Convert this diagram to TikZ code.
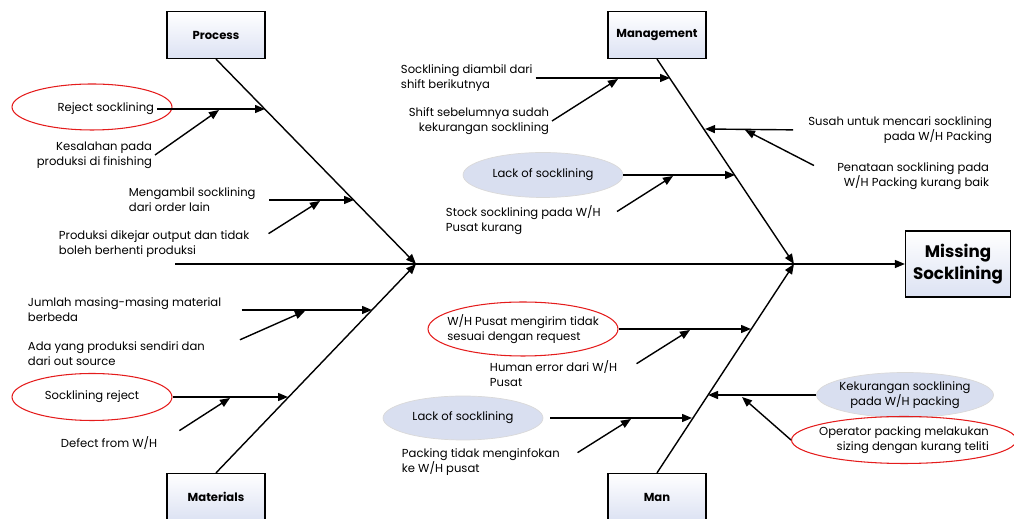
\documentclass[tikz,border=0pt]{standalone}
\usepackage{fontspec}
\setmainfont{Poppins}
\usetikzlibrary{arrows.meta,shapes.geometric}
\definecolor{boxblue}{RGB}{220,226,243}
\definecolor{ellblue}{RGB}{217,223,240}
\definecolor{ringred}{RGB}{228,28,28}
\tikzset{%
  arrow/.style={-{Triangle[length=2mm,width=1.6mm]}, line width=0.8pt},
  cause/.style={inner sep=1.5pt, align=left}
}

\begin{document}
\begin{tikzpicture}[
    x=0.02cm, y=-0.02cm,
    font=\fontsize{6.6}{8.5}\selectfont,
    catbox/.style={
        draw,
        line width=0.7pt,
        top color=white,
        bottom color=boxblue,
        minimum width=1.96cm,
        minimum height=0.94cm,
        font=\fontsize{6.6}{8.5}\selectfont\bfseries
    },
    redring/.style={ellipse, draw=ringred, line width=0.6pt},
    bluering/.style={ellipse, draw=gray!30, fill=ellblue}
]
\useasboundingbox (0,0) rectangle (1014,519);

% head and spine
\node[catbox, minimum width=2.1cm, minimum height=1.32cm, align=center,
      font=\fontsize{9.5}{12.5}\selectfont\bfseries] (effect) at (958,264) {Missing\\Socklining};
\coordinate (tail) at (175,264);
\coordinate (jproc) at (416,264);
\coordinate (jmgmt) at (794,264);
\draw[arrow] (tail) -- (effect.west);

% category bones
\node[catbox] (process) at (216,35) {Process};
\node[catbox] (management) at (657,35) {Management};
\node[catbox] (materials) at (216,497) {Materials};
\node[catbox] (man) at (657,497) {Man};
\draw[arrow] (process.south) -- (jproc);
\draw[arrow] (materials.north) -- (jproc);
\draw[arrow] (management.south) -- (jmgmt);
\draw[arrow] (man.north) -- (jmgmt);

% Process
\node[redring, minimum width=3.2cm, minimum height=0.92cm] (rejring) at (92,107) {};
\node[cause, anchor=east] (reject) at (157,109) {Reject socklining};
\coordinate (proc1) at (265,109);
\draw[arrow] (reject.east) -- (proc1);

\node[cause, align=right, anchor=east] (kesalahan) at (155,155) {Kesalahan pada\\produksi di finishing};
\coordinate (proc1s) at (219,110);
\draw[arrow] (kesalahan.east) -- (proc1s);

\node[cause, anchor=west] (mengambil) at (126,200) {Mengambil socklining\\dari order lain};
\coordinate (proc2) at (354,200);
\draw[arrow, shorten <=6pt] (mengambil.east) -- (proc2);

\node[cause, anchor=west] (dikejar) at (56,244) {Produksi dikejar output dan tidak\\boleh berhenti produksi};
\coordinate (proc2s) at (320,201);
\draw[arrow, shorten <=11pt] (dikejar.east) -- (proc2s);

% Management
\node[cause, anchor=west] (diambil) at (398,78) {Socklining diambil dari\\shift berikutnya};
\coordinate (mgmt1) at (670,78);
\draw[arrow] (diambil.east) -- (mgmt1);

\node[cause, align=right, anchor=east] (sebelumnya) at (552,121) {Shift sebelumnya sudah\\kekurangan socklining};
\coordinate (mgmt1s) at (618,79);
\draw[arrow] (sebelumnya.east) -- (mgmt1s);

\node[bluering, minimum width=3.2cm, minimum height=0.9cm,
      label={center:Lack of socklining}] (lackmgmt) at (543,175) {};
\coordinate (mgmt2) at (735,175);
\draw[arrow] (lackmgmt.east) -- (mgmt2);

\node[cause, anchor=west] (stock) at (443,220) {Stock socklining pada W/H\\Pusat kurang};
\coordinate (mgmt2s) at (673,176);
\draw[arrow, shorten <=9pt] (stock.east) -- (mgmt2s);

\node[cause, align=right, anchor=east] (susah) at (995,130) {Susah untuk mencari socklining\\pada W/H Packing};
\coordinate (mgmt3) at (705,129);
\draw[arrow, shorten <=7pt] (susah.west) -- (mgmt3);

\node[cause, align=right, anchor=east] (penataan) at (992,176) {Penataan socklining pada\\W/H Packing kurang baik};
\coordinate (mgmt3s) at (745,130);
\draw[arrow, shorten <=13pt] (penataan.west) -- (mgmt3s);

% Materials
\node[cause, anchor=west] (jumlah) at (25,310) {Jumlah masing-masing material\\berbeda};
\coordinate (mat1) at (372,310);
\draw[arrow, shorten <=10pt] (jumlah.east) -- (mat1);

\node[cause, anchor=west] (sendiri) at (25,354) {Ada yang produksi sendiri dan\\dari out source};
\coordinate (mat1s) at (305,311);
\draw[arrow, shorten <=20pt] (sendiri.east) -- (mat1s);

\node[redring, minimum width=3.2cm, minimum height=0.94cm,
      label={center:Socklining reject}] (rejmat) at (92,397) {};
\coordinate (mat2) at (288,397);
\draw[arrow] (rejmat.east) -- (mat2);

\node[cause, anchor=west] (defect) at (58,443) {Defect from W/H};
\coordinate (mat2s) at (230,398);
\draw[arrow, shorten <=13pt] (defect.east) -- (mat2s);

% Man
\node[redring, minimum width=3.8cm, minimum height=1.08cm,
      label={[align=left]center:W/H Pusat mengirim tidak\\sesuai dengan request}] (pusat) at (523,329) {};
\coordinate (man1) at (751,329);
\draw[arrow] (pusat.east) -- (man1);

\node[cause, anchor=west] (human) at (487,374) {Human error dari W/H\\Pusat};
\coordinate (man1s) at (690,330);
\draw[arrow, shorten <=11pt] (human.east) -- (man1s);

\node[bluering, minimum width=3.2cm, minimum height=0.88cm,
      label={center:Lack of socklining}] (lackman) at (463,418) {};
\coordinate (man2) at (692,418);
\draw[arrow, shorten <=4pt] (lackman.east) -- (man2);

\node[cause, anchor=west] (infokan) at (399,462) {Packing tidak menginfokan\\ke W/H pusat};
\coordinate (man2s) at (631,419);
\draw[arrow, shorten <=10pt] (infokan.east) -- (man2s);

\node[bluering, minimum width=3.54cm, minimum height=0.9cm,
      label={[align=center]center:Kekurangan socklining\\pada W/H packing}] (kurang) at (905,395) {};
\coordinate (man3) at (708,395);
\draw[arrow] (kurang.west) -- (man3);

\node[redring, minimum width=4.5cm, minimum height=0.94cm,
      label={[align=right]center:Operator packing melakukan\\sizing dengan kurang teliti}] (operator) at (904,440) {};
\coordinate (man3s) at (742,397);
\draw[arrow] (operator.west) -- (man3s);

\end{tikzpicture}
\end{document}
